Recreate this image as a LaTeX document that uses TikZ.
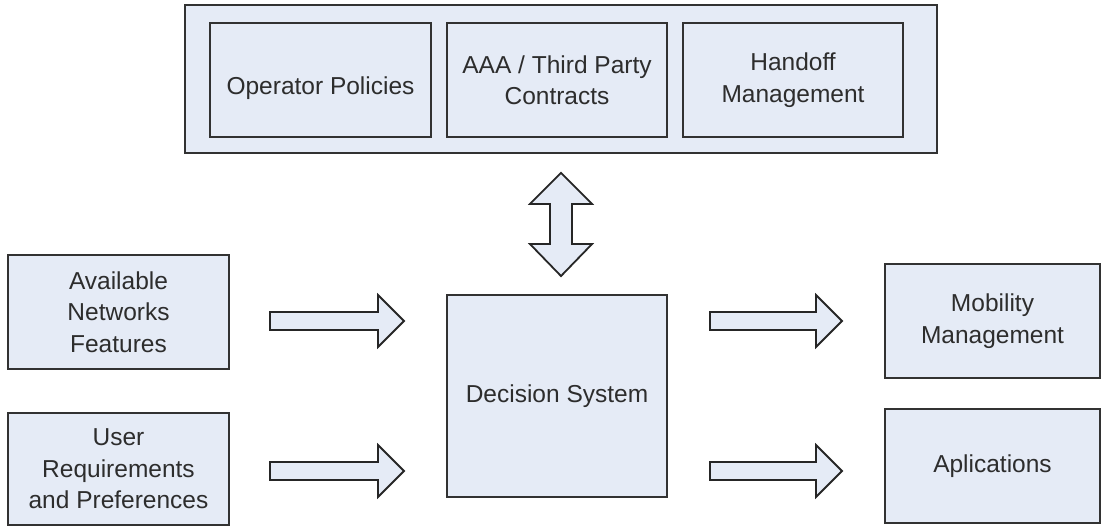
\documentclass[tikz,border=0pt]{standalone}
\usepackage{fontspec}
\setmainfont{Liberation Sans}
\usetikzlibrary{calc}
\definecolor{boxfill}{RGB}{229,235,246}
\definecolor{boxline}{RGB}{50,50,50}
\definecolor{textgray}{RGB}{45,45,45}

% horizontal block arrow from #1 to #2 (tip at #2)
\newcommand\blockarrowH[2]{%
  \draw[fatarrow] let \p1=(#1), \p2=(#2) in
    (\x1,\y1+9pt) -- (\x2-26pt,\y1+9pt) -- (\x2-26pt,\y1+26pt) -- (\x2,\y1)
    -- (\x2-26pt,\y1-26pt) -- (\x2-26pt,\y1-9pt) -- (\x1,\y1-9pt) -- cycle;}

\begin{document}
\begin{tikzpicture}[x=1pt,y=-1pt,
  boxtext/.style={text=textgray,font=\fontsize{24.5}{31.5}\selectfont,align=center},
  box/.style={draw=boxline,fill=boxfill,line width=1.9pt,inner sep=0pt,boxtext},
  fatarrow/.style={draw=black!85,fill=boxfill,line width=1.8pt,line join=miter}]
  \useasboundingbox (0,0) rectangle (1102,527);

  % policy group at the top
  \node[box,minimum width=752pt,minimum height=148pt] (top) at (561,79) {};
  \node[box,minimum width=221pt,minimum height=114pt,
        label={[boxtext,yshift=-8pt]center:Operator Policies}] (op) at (320.5,80) {};
  \node[box,minimum width=220pt,minimum height=114pt] (aaa) at (557,80) {AAA / Third Party\\Contracts};
  \node[box,minimum width=220pt,minimum height=114pt] (hand) at (793,80) {Handoff\\Management};

  % inputs
  \node[box,minimum width=221pt,minimum height=114pt] (avail) at (118.5,312) {Available\\Networks\\Features};
  \node[box,minimum width=221pt,minimum height=112pt] (user) at (118.5,469) {User\\Requirements\\and Preferences};

  % core
  \node[box,minimum width=220pt,minimum height=202pt] (dec) at (557,396) {Decision System};

  % outputs
  \node[box,minimum width=215pt,minimum height=114pt] (mob) at (992.5,321) {Mobility\\Management};
  \node[box,minimum width=215pt,minimum height=114pt] (app) at (992.5,466) {Aplications};

  % double arrow between policies and decision system
  \coordinate (du) at ([yshift=-19pt]top.south);
  \coordinate (dd) at ([yshift=18pt]dec.north);
  \draw[fatarrow] let \p1=(du), \p2=(dd) in
    (\x1,\y1) -- (\x1+31pt,\y1-31pt) -- (\x1+11pt,\y1-31pt) -- (\x1+11pt,\y2+32pt)
    -- (\x1+31pt,\y2+32pt) -- (\x1,\y2) -- (\x1-31pt,\y2+32pt) -- (\x1-11pt,\y2+32pt)
    -- (\x1-11pt,\y1-31pt) -- (\x1-31pt,\y1-31pt) -- cycle;

  % input arrows
  \coordinate (a1s) at (270,321);
  \coordinate (a1e) at (404,321);
  \coordinate (a2s) at (270,471);
  \coordinate (a2e) at (404,471);
  \blockarrowH{a1s}{a1e}
  \blockarrowH{a2s}{a2e}

  % output arrows
  \coordinate (b1s) at (710,321);
  \coordinate (b1e) at (842,321);
  \coordinate (b2s) at (710,471);
  \coordinate (b2e) at (842,471);
  \blockarrowH{b1s}{b1e}
  \blockarrowH{b2s}{b2e}
\end{tikzpicture}
\end{document}
